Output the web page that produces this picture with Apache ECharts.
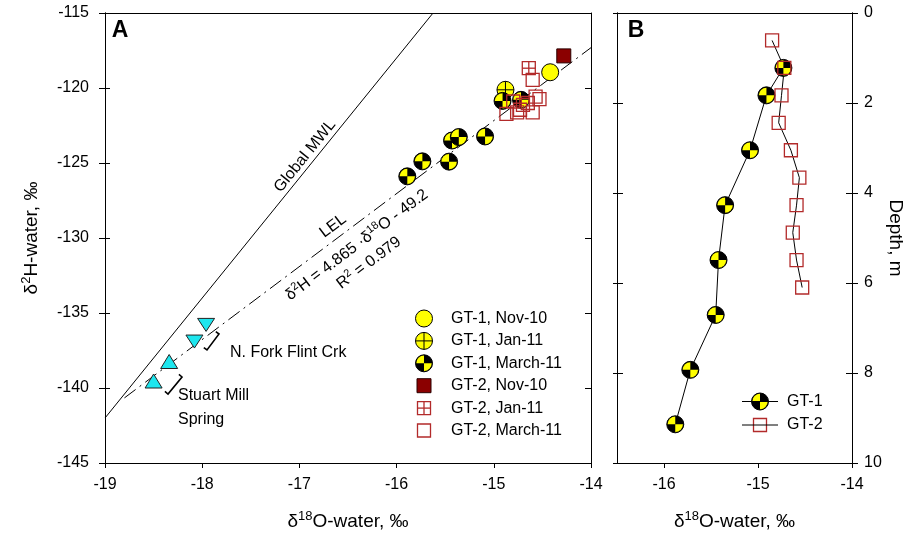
<!DOCTYPE html>
<html>
<head>
<meta charset="utf-8" />
<title>Isotope plot</title>
<script src="https://cdn.jsdelivr.net/npm/echarts@6/dist/echarts.min.js"></script>
<style>
  html, body { margin: 0; padding: 0; background: #fff; }
  #chart { width: 917px; height: 538px; }
</style>
</head>
<body>
<div id="chart"></div>
<script>
// ---- data ----
// panel A: [d18O, d2H]
var mwlLine = [[-19, -142], [-15.625, -115]];
var lelLine = [[-18.8, -140.66], [-14, -117.31]];
var gt1Nov10 = [[-14.42, -118.95]];
var gt1Jan11 = [[-14.88, -120.12]];
var gt1Mar11 = [[-15.89, -125.89], [-15.735, -124.89], [-15.46, -124.91], [-15.43, -123.5],
                [-15.36, -123.27], [-15.09, -123.23], [-14.91, -120.86], [-14.72, -120.79]];
var gt2Nov10 = [[-14.28, -117.86]];
var gt2Jan11 = [[-14.64, -118.68]];
var gt2Mar11 = [[-14.60, -119.46], [-14.57, -120.57], [-14.53, -120.74], [-14.80, -120.9],
                [-14.65, -121.0], [-14.87, -121.72], [-14.76, -121.63], [-14.60, -121.63],
                [-14.70, -121.12], [-14.73, -121.45]];
var flintCrk = [[-17.96, -135.76], [-18.08, -136.87]];
var stuartMill = [[-18.34, -138.3], [-18.50, -139.6]];

// panel B: depth profiles
var depthGT1 = [1.22, 1.83, 3.05, 4.27, 5.49, 6.71, 7.93, 9.14];
var o18GT1 = [-14.73, -14.91, -15.085, -15.35, -15.42, -15.45, -15.72, -15.88];
var depthGT2 = [0.61, 1.22, 1.83, 2.44, 3.05, 3.66, 4.27, 4.88, 5.49, 6.10];
var o18GT2 = [-14.85, -14.72, -14.75, -14.78, -14.65, -14.56, -14.59, -14.63, -14.59, -14.53];

var xTicksB = [-16, -15, -14];

var legendA = [
  { kind: 'circle', text: 'GT-1, Nov-10' },
  { kind: 'crossCircle', text: 'GT-1, Jan-11' },
  { kind: 'quadCircle', text: 'GT-1, March-11' },
  { kind: 'fillSquare', text: 'GT-2, Nov-10' },
  { kind: 'crossSquare', text: 'GT-2, Jan-11' },
  { kind: 'openSquare', text: 'GT-2, March-11' }
];
var legendB = [
  { kind: 'quadCircle', text: 'GT-1' },
  { kind: 'openSquare', text: 'GT-2' }
];

// ---- styling ----
var FONT = '"Liberation Sans", Arial, sans-serif';
var YEL = '#ffff00';
var CYAN = '#1ee6ee';
var RED = '#b22a2a';

function markerShapes(kind, x, y) {
  var r = 8.5, h = 6.5;
  var blk = { stroke: '#000', lineWidth: 1 };
  switch (kind) {
    case 'circle':
      return [{ type: 'circle', shape: { cx: x, cy: y, r: r }, style: { fill: YEL, stroke: '#000', lineWidth: 1 } }];
    case 'crossCircle':
      return [
        { type: 'circle', shape: { cx: x, cy: y, r: r }, style: { fill: YEL, stroke: '#000', lineWidth: 1 } },
        { type: 'line', shape: { x1: x - r, y1: y, x2: x + r, y2: y }, style: blk },
        { type: 'line', shape: { x1: x, y1: y - r, x2: x, y2: y + r }, style: blk }
      ];
    case 'quadCircle':
      // black disc, yellow upper-left and lower-right quarters
      return [
        { type: 'circle', shape: { cx: x, cy: y, r: r }, style: { fill: '#000', stroke: '#000', lineWidth: 1 } },
        { type: 'sector', shape: { cx: x, cy: y, r0: 0, r: r - 0.8, startAngle: Math.PI, endAngle: Math.PI * 1.5, clockwise: true }, style: { fill: YEL } },
        { type: 'sector', shape: { cx: x, cy: y, r0: 0, r: r - 0.8, startAngle: 0, endAngle: Math.PI / 2, clockwise: true }, style: { fill: YEL } }
      ];
    case 'fillSquare':
      return [{ type: 'rect', shape: { x: x - 7, y: y - 7, width: 14, height: 14 }, style: { fill: '#8b0000', stroke: '#2a0000', lineWidth: 1 } }];
    case 'crossSquare':
      return [
        { type: 'rect', shape: { x: x - h, y: y - h, width: 2 * h, height: 2 * h }, style: { fill: 'none', stroke: RED, lineWidth: 1.3 } },
        { type: 'line', shape: { x1: x - h, y1: y, x2: x + h, y2: y }, style: { stroke: RED, lineWidth: 1.3 } },
        { type: 'line', shape: { x1: x, y1: y - h, x2: x, y2: y + h }, style: { stroke: RED, lineWidth: 1.3 } }
      ];
    case 'openSquare':
      return [{ type: 'rect', shape: { x: x - h, y: y - h, width: 2 * h, height: 2 * h }, style: { fill: 'none', stroke: RED, lineWidth: 1.3 } }];
    case 'triDown':
      return [{ type: 'polygon', shape: { points: [[x - 8.5, y - 6], [x + 8.5, y - 6], [x, y + 7]] }, style: { fill: CYAN, stroke: '#222', lineWidth: 1 } }];
    case 'triUp':
      return [{ type: 'polygon', shape: { points: [[x - 8.5, y + 6], [x + 8.5, y + 6], [x, y - 8]] }, style: { fill: CYAN, stroke: '#222', lineWidth: 1 } }];
  }
  return [];
}

function markerSeries(name, data, kind, xi, yi, z) {
  return {
    type: 'custom', name: name, xAxisIndex: xi, yAxisIndex: yi, z: z || 5,
    clip: false, encode: { x: 0, y: 1 }, data: data,
    renderItem: function (params, api) {
      var p = api.coord([api.value(0), api.value(1)]);
      return { type: 'group', children: markerShapes(kind, p[0], p[1]) };
    }
  };
}

function zip(xs, ys) { return xs.map(function (v, i) { return [v, ys[i]]; }); }

var richSup = {
  n: { fontSize: 16, fontFamily: FONT, color: '#000', lineHeight: 20 },
  s: { fontSize: 11, fontFamily: FONT, color: '#000', verticalAlign: 'top', lineHeight: 20, padding: [0, 0, 6, 0] }
};
var richTitle = {
  n: { fontSize: 19, fontFamily: FONT, color: '#000', lineHeight: 24 },
  s: { fontSize: 13, fontFamily: FONT, color: '#000', verticalAlign: 'top', lineHeight: 24, padding: [0, 0, 7, 0] }
};
var lineStyle = { color: '#000', width: 1 };

function plainAxis(extra) {
  var base = {
    axisLine: { show: true, onZero: false, lineStyle: lineStyle },
    axisTick: { show: false },
    axisLabel: { show: false },
    splitLine: { show: false }
  };
  return Object.assign(base, extra);
}

var option = {
  animation: false,
  backgroundColor: '#fff',
  grid: [
    { left: 105, top: 13, width: 486, height: 450 },
    { left: 617, top: 13, width: 235, height: 450 }
  ],
  xAxis: [
    plainAxis({
      gridIndex: 0, position: 'bottom', min: -19, max: -14, interval: 1,
      axisTick: { show: true, inside: false, length: 5, lineStyle: lineStyle },
      axisLabel: { show: true, margin: 14, color: '#000', fontSize: 16, fontFamily: FONT },
      name: '{n|δ}{s|18}{n|O-water, ‰}', nameLocation: 'middle', nameGap: 47,
      nameTextStyle: { rich: richTitle }
    }),
    plainAxis({ gridIndex: 0, position: 'top', min: -19, max: -14, interval: 1 }),
    plainAxis({
      gridIndex: 1, position: 'bottom', min: -16.5, max: -14,
      axisTick: { show: true, length: 5, customValues: xTicksB, lineStyle: lineStyle },
      axisLabel: { show: true, margin: 14, customValues: xTicksB, color: '#000', fontSize: 16, fontFamily: FONT },
      name: '{n|δ}{s|18}{n|O-water, ‰}', nameLocation: 'middle', nameGap: 47,
      nameTextStyle: { rich: richTitle }
    }),
    plainAxis({ gridIndex: 1, position: 'top', min: -16.5, max: -14 })
  ],
  yAxis: [
    plainAxis({
      gridIndex: 0, position: 'left', min: -145, max: -115, interval: 5,
      axisTick: { show: true, inside: false, length: 6, lineStyle: lineStyle },
      axisLabel: { show: true, margin: 16, color: '#000', fontSize: 16, fontFamily: FONT },
      name: '{n|δ}{s|2}{n|H-water, ‰}', nameLocation: 'middle', nameGap: 61, nameRotate: 90,
      nameTextStyle: { rich: richTitle }
    }),
    plainAxis({
      gridIndex: 0, position: 'left', min: -145, max: -115, interval: 5,
      axisTick: { show: true, inside: true, length: 5, lineStyle: lineStyle }
    }),
    plainAxis({
      gridIndex: 0, position: 'right', min: -145, max: -115, interval: 5,
      axisTick: { show: true, inside: true, length: 6, lineStyle: lineStyle }
    }),
    plainAxis({
      gridIndex: 1, position: 'right', min: 0, max: 10, interval: 2, inverse: true,
      axisTick: { show: true, inside: false, length: 6, lineStyle: lineStyle },
      axisLabel: { show: true, margin: 12, color: '#000', fontSize: 16, fontFamily: FONT },
      name: 'Depth, m', nameLocation: 'middle', nameGap: 34, nameRotate: -90,
      nameTextStyle: { color: '#000', fontSize: 19, fontFamily: FONT }
    }),
    plainAxis({
      gridIndex: 1, position: 'right', min: 0, max: 10, interval: 2, inverse: true,
      axisTick: { show: true, inside: true, length: 6, lineStyle: lineStyle }
    }),
    plainAxis({
      gridIndex: 1, position: 'left', min: 0, max: 10, interval: 2, inverse: true,
      axisTick: { show: true, inside: true, length: 6, lineStyle: lineStyle }
    }),
    plainAxis({
      gridIndex: 1, position: 'left', min: 0, max: 10, interval: 2, inverse: true,
      axisTick: { show: true, inside: false, length: 4, lineStyle: lineStyle }
    })
  ],
  series: [
    // panel A lines
    { type: 'line', xAxisIndex: 0, yAxisIndex: 0, data: mwlLine, symbol: 'none', silent: true,
      lineStyle: { color: '#000', width: 1 }, z: 2 },
    { type: 'line', xAxisIndex: 0, yAxisIndex: 0, data: lelLine, symbol: 'none', silent: true,
      lineStyle: { color: '#000', width: 1, type: [14, 5, 2, 5] }, z: 2 },
    markerSeries('Flint', flintCrk, 'triDown', 0, 0),
    markerSeries('Stuart', stuartMill, 'triUp', 0, 0),
    markerSeries('GT-1, Nov-10', gt1Nov10, 'circle', 0, 0),
    markerSeries('GT-1, Jan-11', gt1Jan11, 'crossCircle', 0, 0),
    markerSeries('GT-1, March-11', gt1Mar11, 'quadCircle', 0, 0),
    markerSeries('GT-2, Nov-10', gt2Nov10, 'fillSquare', 0, 0, 6),
    markerSeries('GT-2, Jan-11', gt2Jan11, 'crossSquare', 0, 0, 6),
    markerSeries('GT-2, March-11', gt2Mar11, 'openSquare', 0, 0, 6),
    // panel B
    { type: 'line', xAxisIndex: 2, yAxisIndex: 3, data: zip(o18GT1, depthGT1), symbol: 'none',
      lineStyle: { color: '#000', width: 1 }, z: 2 },
    { type: 'line', xAxisIndex: 2, yAxisIndex: 3, data: zip(o18GT2, depthGT2), symbol: 'none',
      lineStyle: { color: '#000', width: 1 }, z: 2 },
    markerSeries('GT-1', zip(o18GT1, depthGT1), 'quadCircle', 2, 3),
    markerSeries('GT-2', zip(o18GT2, depthGT2), 'openSquare', 2, 3, 6)
  ]
};

// annotations and legends (graphic)
var gfx = [];
function txt(x, y, s, opts) {
  var o = Object.assign({
    type: 'text', x: x, y: y, z: 20,
    style: { text: s, font: '16px ' + FONT, fill: '#000', align: 'left', verticalAlign: 'middle' }
  }, opts || {});
  return o;
}
gfx.push(txt(120, 31, 'A', { style: { text: 'A', font: 'bold 23px ' + FONT, fill: '#000', align: 'center', verticalAlign: 'middle' } }));
gfx.push(txt(636, 31, 'B', { style: { text: 'B', font: 'bold 23px ' + FONT, fill: '#000', align: 'center', verticalAlign: 'middle' } }));
gfx.push({ type: 'text', x: 305, y: 156, rotation: 51 * Math.PI / 180, z: 20,
  style: { text: 'Global MWL', font: '16px ' + FONT, fill: '#000', align: 'center', verticalAlign: 'middle' } });
gfx.push({ type: 'text', x: 333, y: 226, rotation: 37 * Math.PI / 180, z: 20,
  style: { text: 'LEL', font: '16px ' + FONT, fill: '#000', align: 'center', verticalAlign: 'middle' } });
gfx.push({ type: 'text', x: 357, y: 245, rotation: 37 * Math.PI / 180, z: 20,
  style: { text: '{n|δ}{s|2}{n|H = 4.865 ·δ}{s|18}{n|O - 49.2}', rich: richSup, align: 'center', verticalAlign: 'middle' } });
gfx.push({ type: 'text', x: 369, y: 263, rotation: 37 * Math.PI / 180, z: 20,
  style: { text: '{n|R}{s|2}{n| = 0.979}', rich: richSup, align: 'center', verticalAlign: 'middle' } });
gfx.push(txt(230, 353, 'N. Fork Flint Crk'));
gfx.push(txt(178, 396, 'Stuart Mill'));
gfx.push(txt(178, 420, 'Spring'));
// brackets beside the stream / spring triangles
function bracket(x1, y1, x2, y2) {
  var dx = x2 - x1, dy = y2 - y1, L = Math.sqrt(dx * dx + dy * dy);
  var px = -dy / L * 4, py = dx / L * 4;
  if (px > 0) { px = -px; py = -py; }
  return { type: 'polyline', z: 20,
    shape: { points: [[x1 + px, y1 + py], [x1, y1], [x2, y2], [x2 + px, y2 + py]] },
    style: { stroke: '#000', lineWidth: 1.6, fill: 'none' } };
}
gfx.push(bracket(219, 334, 207, 350));
gfx.push(bracket(182, 377, 168, 394));

// legend A
legendA.forEach(function (it, i) {
  var y = 318.5 + i * 22.4;
  gfx.push({ type: 'group', z: 20, children: markerShapes(it.kind, 424, y) });
  gfx.push(txt(451, y, it.text));
});
// legend B
legendB.forEach(function (it, i) {
  var y = 401.5 + i * 23.5;
  gfx.push({ type: 'line', z: 19, shape: { x1: 742, y1: y, x2: 778, y2: y }, style: { stroke: '#000', lineWidth: 1 } });
  gfx.push({ type: 'group', z: 20, children: markerShapes(it.kind, 760, y) });
  gfx.push(txt(787, y, it.text));
});
option.graphic = { elements: gfx };

var chart = echarts.init(document.getElementById('chart'));
chart.setOption(option);
</script>
</body>
</html>
